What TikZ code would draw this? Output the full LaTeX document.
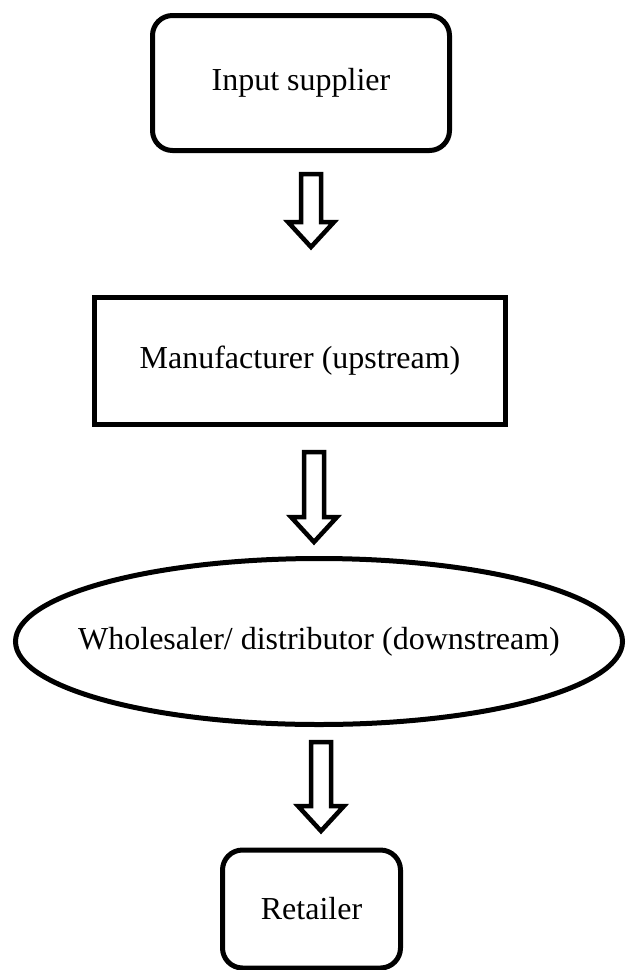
\documentclass[tikz,border=0pt]{standalone}
\usepackage{fontspec}
\setmainfont{Liberation Serif}
\usetikzlibrary{shapes.geometric, calc}
\tikzstyle{roundbox} = [rectangle, rounded corners=20pt, draw=black, line width=5pt, inner sep=0pt, text centered, font=\fontsize{32}{38}\selectfont]
\tikzstyle{squarebox} = [roundbox, sharp corners]
\tikzstyle{oval} = [ellipse, draw=black, line width=5pt, inner ysep=0pt, inner xsep=-30pt, text centered, font=\fontsize{32}{38}\selectfont]
\tikzstyle{hollow} = [draw=black, line width=4.5pt, fill=white, line join=miter]

% hollow block arrow from #1 (top of shaft) down to #2 (tip)
\newcommand{\flowarrow}[2]{%
  \draw[hollow] ($(#1)+(-10,0)$) -- ($(#2)+(-10,25)$) -- ($(#2)+(-23,25)$) -- (#2)
    -- ($(#2)+(23,25)$) -- ($(#2)+(10,25)$) -- ($(#1)+(10,0)$) -- cycle;}

\begin{document}
\begin{tikzpicture}[x=1pt, y=1pt]
\useasboundingbox (0,0) rectangle (627,-970);

\node (supplier) [roundbox, minimum width=297pt, minimum height=135pt] at (301,-83) {Input supplier};
\node (maker) [squarebox, minimum width=411pt, minimum height=127pt] at (300,-361) {Manufacturer (upstream)};
\node (wholesale) [oval, minimum width=607pt, minimum height=166pt] at (319,-641.5) {Wholesaler/ distributor (downstream)};
\node (retailer) [roundbox, minimum width=178pt, minimum height=118pt] at (311.5,-909) {Retailer};

\coordinate (a1) at (311,-174); \coordinate (t1) at (311,-247);
\coordinate (a2) at (314,-452); \coordinate (t2) at (314,-542);
\coordinate (a3) at (321,-742); \coordinate (t3) at (321,-831);

\flowarrow{a1}{t1}
\flowarrow{a2}{t2}
\flowarrow{a3}{t3}

\end{tikzpicture}
\end{document}
